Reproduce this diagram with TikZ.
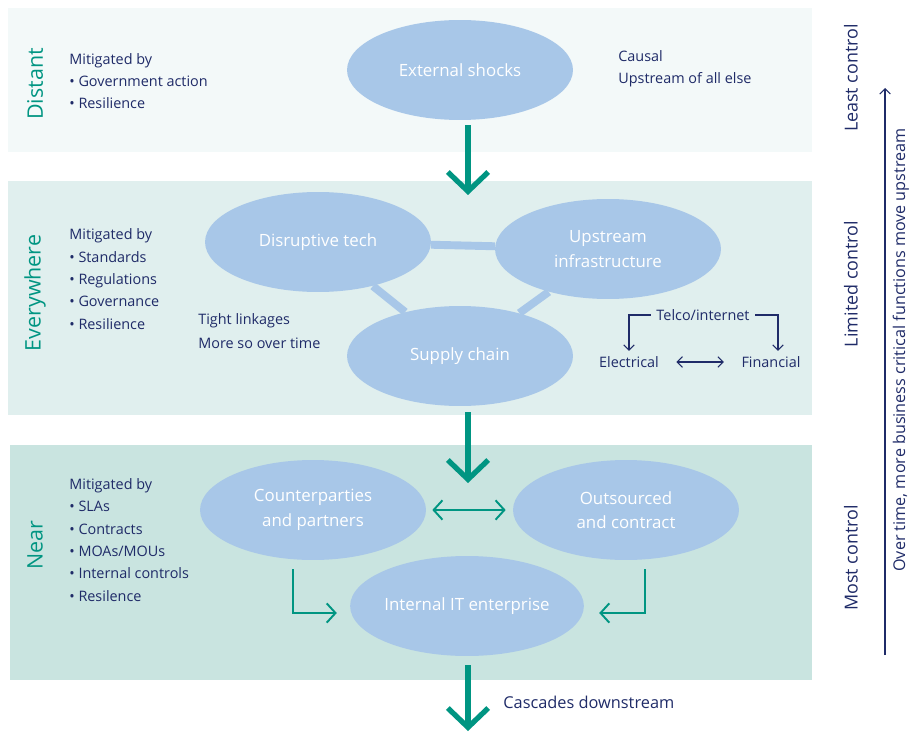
\documentclass[tikz,border=0pt]{standalone}
\usepackage{fontspec}
\setmainfont{Open Sans}
\usetikzlibrary{arrows.meta,shapes.geometric,backgrounds}
\definecolor{bandfar}{HTML}{F3F9F9}
\definecolor{bandmid}{HTML}{E0EFEE}
\definecolor{bandnear}{HTML}{C9E4E0}
\definecolor{blobblue}{HTML}{A8C7E8}
\definecolor{tealgreen}{HTML}{009582}
\definecolor{navy}{HTML}{1F2B68}
\tikzset{blob/.style={ellipse,fill=blobblue,text=white,inner sep=0pt,
   minimum width=4.52cm,minimum height=2cm,align=center,
   font=\fontsize{9.6}{14}\selectfont},
 note/.style={text=navy,inner sep=0pt,align=left,
   font=\fontsize{8.2}{12.7}\selectfont},
 zonelabel/.style={text=tealgreen,rotate=90,inner sep=0pt,
   font=\fontsize{12.2}{14}\selectfont},
 ctrl/.style={text=navy,rotate=90,inner sep=0pt,
   font=\fontsize{10.2}{13}\selectfont},
 link/.style={draw=blobblue,line width=4.5pt},
 bigarrow/.style={draw=tealgreen,line width=3pt,
   -{Straight Barb[length=11pt,width=23pt]}},
 tealarrow/.style={draw=tealgreen,line width=1.1pt,
   -{Straight Barb[length=5pt,width=11pt]}},
 tealboth/.style={tealarrow,
   {Straight Barb[length=5pt,width=11pt]}-{Straight Barb[length=5pt,width=11pt]}},
 navyarrow/.style={draw=navy,line width=0.6pt,
   -{Straight Barb[length=3pt,width=6pt]}},
 navyboth/.style={navyarrow,
   {Straight Barb[length=3pt,width=6pt]}-{Straight Barb[length=3pt,width=6pt]}},
 }

\begin{document}
\begin{tikzpicture}[x=0.02cm,y=-0.02cm]
        \useasboundingbox (0,0) rectangle (912,733);
        % zone 1: distant
        \node[blob] (ext) at (460,70) {External shocks};
        \node[zonelabel] (dist) at (35,84) {Distant};
        \node[note,anchor=west] (mitdist) at (69,81)
            {Mitigated by\\• Government action\\• Resilience};
        \node[note,anchor=west] (causal) at (618,69)
            {Causal\\Upstream of all else};
        % zone 2: everywhere
        \node[blob] (disr) at (318,242) {Disruptive tech};
        \node[blob] (upinf) at (608,249) {Upstream\\infrastructure};
        \node[blob] (supply) at (460,356) {Supply chain};
        \node[zonelabel] (every) at (35,293) {Everywhere};
        \node[note,anchor=west] (mitevery) at (69,279)
            {Mitigated by\\• Standards\\• Regulations\\• Governance\\• Resilience};
        \node[note,anchor=west] (tight) at (198,331)
            {Tight linkages\\[1pt]More so over time};
        \node[note,inner sep=3pt] (telco) at (703,315) {Telco/internet};
        \node[note,inner sep=3pt] (elec) at (629,362) {Electrical};
        \node[note,inner sep=3pt] (finan) at (771,362) {Financial};
        % zone 3: near
        \node[blob] (cpty) at (313,510) {Counterparties\\and partners};
        \node[blob] (outs) at (626,510) {Outsourced\\and contract};
        \node[blob] (itent) at (467,606) {Internal IT enterprise};
        \node[zonelabel] (near) at (35,545) {Near};
        \node[note,anchor=west] (mitnear) at (69,540)
            {Mitigated by\\• SLAs\\• Contracts\\• MOAs/MOUs\\• Internal controls\\• Resilence};
        \node[note,anchor=west,font=\fontsize{9.3}{12}\selectfont] (casc) at (503,702)
            {Cascades downstream};
        % control scale
        \node[ctrl] (least) at (851,78) {Least control};
        \node[ctrl] (limited) at (851,284) {Limited control};
        \node[ctrl] (most) at (851,558) {Most control};
        \coordinate (scalelo) at (885,655);
        \coordinate (scalehi) at (885,88);
        \node[note,rotate=90,anchor=base,font=\fontsize{9.2}{12}\selectfont] (overtime) at (905,350)
            {Over time, more business critical functions move upstream};

        \begin{scope}[on background layer]
            \fill[bandfar] (8,8) rectangle (812,152);
            \fill[bandmid] (8,181) rectangle (812,415);
            \fill[bandnear] (10,445) rectangle (812,680);
            \draw[link] (disr) -- (upinf);
            \draw[link] (disr) -- (supply);
            \draw[link] (upinf) -- (supply);
        \end{scope}

        % flow between zones
        \coordinate (tip1) at (468,195);
        \coordinate (tip2) at (468,483);
        \coordinate (tip3) at (468,731);
        \draw[bigarrow] ([shift={(8,5)}]ext.south) -- (tip1);
        \draw[bigarrow] ([shift={(8,6)}]supply.south) -- (tip2);
        \draw[bigarrow] ([shift={(1,9)}]itent.south) -- (tip3);

        \draw[tealboth] ([shift={(6,0)}]cpty.east) -- ([shift={(-7,0)}]outs.west);
        \draw[tealarrow] ([shift={(-20,9)}]cpty.south) |- ([shift={(-13,7)}]itent.west);
        \draw[tealarrow] ([shift={(19,9)}]outs.south) |- ([shift={(15,7)}]itent.east);

        \draw[navyarrow] (telco.west) -| (elec.north);
        \draw[navyarrow] (telco.east) -| ([shift={(7,0)}]finan.north);
        \draw[navyboth] ([shift={(12,0)}]elec.east) -- ([shift={(-12,0)}]finan.west);
        \draw[navyarrow] (scalelo) -- (scalehi);
\end{tikzpicture}
\end{document}
